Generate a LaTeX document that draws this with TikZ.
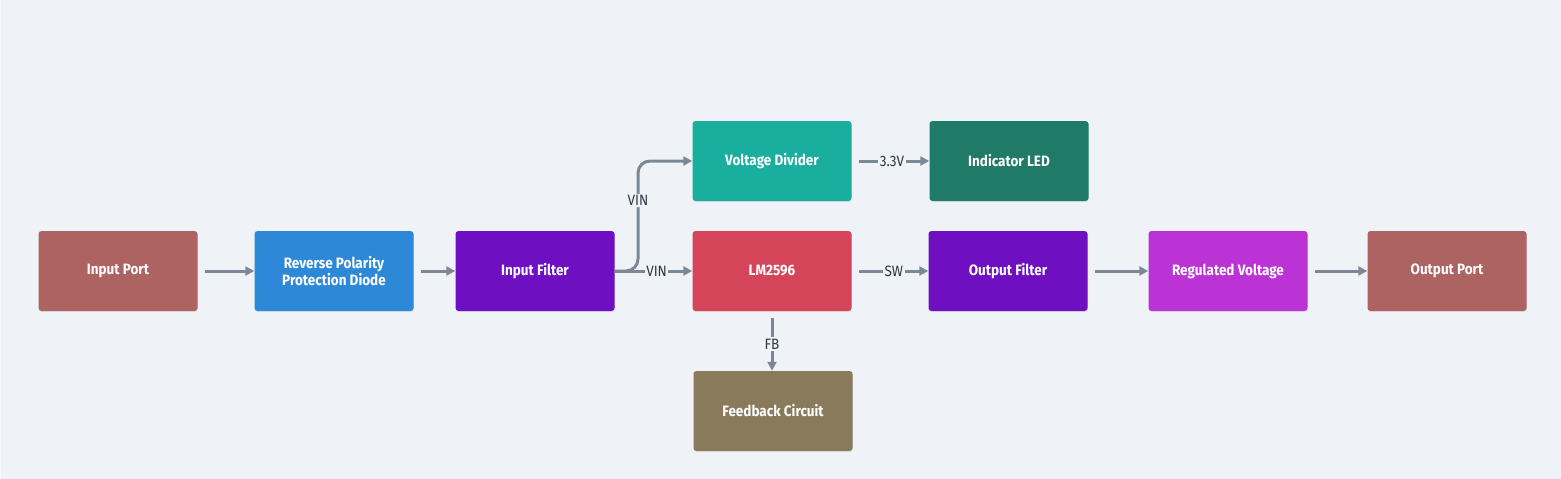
\documentclass[tikz,border=0pt]{standalone}
\usepackage{fontspec}
\setmainfont{Fira Sans}[FakeStretch=0.9]
\usetikzlibrary{arrows.meta,shadows}
\definecolor{bg}{HTML}{EFF3F7}
\definecolor{edge}{HTML}{7D8896}
\definecolor{lbl}{HTML}{2D3643}
\definecolor{cport}{HTML}{AD6361}
\definecolor{crev}{HTML}{2E88D8}
\definecolor{cfilt}{HTML}{6E10C2}
\definecolor{cvd}{HTML}{1AAE9F}
\definecolor{cled}{HTML}{1F7A68}
\definecolor{clm}{HTML}{D4455A}
\definecolor{creg}{HTML}{BB33D4}
\definecolor{cfb}{HTML}{8A7A5C}
\tikzset{
  blk/.style={rectangle, rounded corners=3pt, minimum width=159pt, minimum height=80pt,
    text=white, font=\bfseries\fontsize{15}{18}\selectfont, align=center, inner sep=2pt,
    drop shadow={opacity=0.12, shadow xshift=0.6pt, shadow yshift=-1.2pt}},
  conn/.style={draw=edge, line width=3pt, -{Triangle[length=9pt,width=9pt]}},
  elbl/.style={fill=bg, text=lbl, font=\fontsize{15}{17}\selectfont, inner sep=1.5pt}
}
\begin{document}
\begin{tikzpicture}[x=1pt,y=-1pt]
\fill[bg] (0,0) rectangle (1561,479);
\useasboundingbox (0,0) rectangle (1561,479);
\draw[white!60!bg, line width=1pt] (0.5,0) -- (0.5,479);
\node[blk, fill=cport] (ip) at (118,271) {Input Port};
\node[blk, fill=crev] (rp) at (334,271) {Reverse Polarity\\[-1pt]Protection Diode};
\node[blk, fill=cfilt] (if) at (535,271) {Input Filter};
\node[blk, fill=cvd] (vd) at (772,161) {Voltage Divider};
\node[blk, fill=cled] (led) at (1009,161) {Indicator LED};
\node[blk, fill=clm] (lm) at (772,271) {LM2596};
\node[blk, fill=cfilt] (of) at (1008,271) {Output Filter};
\node[blk, fill=creg] (rv) at (1228,271) {Regulated Voltage};
\node[blk, fill=cport] (op) at (1447,271) {Output Port};
\node[blk, fill=cfb] (fb) at (773,411) {Feedback Circuit};

\draw[conn, shorten <=7pt] (ip.east) -- (rp.west);
\draw[conn, shorten <=7pt] (rp.east) -- (if.west);
\draw[conn] (if.east) -- node[elbl, pos=0.54] {VIN} (lm.west);
\coordinate (b1) at (638,271);
\coordinate (b2) at (638,161);
\draw[conn, rounded corners=12pt] (if.east) -- (b1) -- node[elbl, pos=0.64] {VIN} (b2) -- (vd.west);
\draw[conn, shorten <=7pt] (vd.east) -- node[elbl, pos=0.52] {3.3V} (led.west);
\draw[conn, shorten <=7pt] (lm.east) -- node[elbl, pos=0.55] {SW} (of.west);
\draw[conn, shorten <=7pt] (lm.south) -- node[elbl, pos=0.55] {FB} (lm.south |- fb.north);
\draw[conn, shorten <=7pt] (of.east) -- (rv.west);
\draw[conn, shorten <=7pt] (rv.east) -- (op.west);
\end{tikzpicture}
\end{document}
